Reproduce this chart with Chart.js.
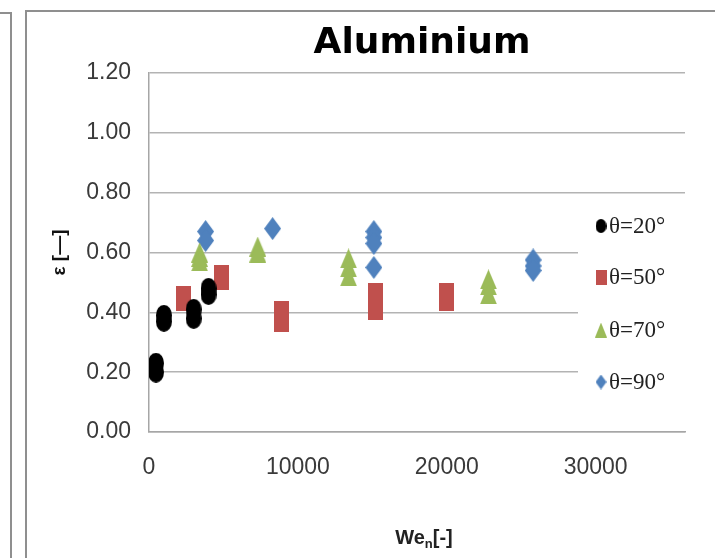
<!DOCTYPE html>
<html>
<head>
<meta charset="utf-8">
<title>Aluminium</title>
<style>
  html, body { margin: 0; padding: 0; background: #fff; }
  body { width: 715px; height: 558px; position: relative; overflow: hidden; }
  .prev { position: absolute; left: -10px; top: 12px; width: 20px; height: 600px; border: 2px solid #8f8f8f; border-left: none; }
  .frame { position: absolute; left: 25px; top: 10px; width: 720px; height: 600px; border: 2px solid #8f8f8f; }
  #chart { position: absolute; left: 0; top: 0; }
</style>
</head>
<body>
<div class="prev"></div>
<div class="frame"></div>
<canvas id="chart" width="715" height="558"></canvas>
<script src="https://cdn.jsdelivr.net/npm/chart.js@4.4.1/dist/chart.umd.min.js"></script>
<script>
// Wen and epsilon per contact angle
const we20 = [470, 470, 1000, 1000, 3000, 3000, 4000, 4000];
const eps20 = [0.23, 0.20, 0.39, 0.37, 0.41, 0.38, 0.48, 0.46];
const we50 = [2300, 2300, 4900, 4900, 8900, 8900, 15200, 15200, 15200, 20000, 20000];
const eps50 = [0.45, 0.44, 0.52, 0.51, 0.40, 0.37, 0.46, 0.43, 0.41, 0.46, 0.44];
const we70 = [3400, 3400, 3400, 7300, 7300, 13400, 13400, 13400, 22800, 22800, 22800];
const eps70 = [0.60, 0.585, 0.57, 0.62, 0.60, 0.58, 0.55, 0.52, 0.51, 0.49, 0.46];
const we90 = [3800, 3800, 8300, 15100, 15100, 15100, 15100, 25800, 25800, 25800];
const eps90 = [0.67, 0.64, 0.68, 0.67, 0.65, 0.63, 0.55, 0.575, 0.555, 0.54];

const seriesLabels = ['θ=20°', 'θ=50°', 'θ=70°', 'θ=90°'];
const xTicks = [0, 10000, 20000, 30000];

const colors = ['#000000', '#C0504D', '#9BBB59', '#4F81BD'];

// tall markers (the plot is a bit stretched vertically)
function marker(shape, w, h, color) {
  const c = document.createElement('canvas');
  c.width = w; c.height = h;
  const g = c.getContext('2d');
  g.fillStyle = color;
  g.beginPath();
  if (shape === 'ellipse') g.ellipse(w / 2, h / 2, w / 2, h / 2, 0, 0, Math.PI * 2);
  else if (shape === 'rect') g.rect(0, 0, w, h);
  else if (shape === 'triangle') { g.moveTo(w / 2, 0); g.lineTo(w, h); g.lineTo(0, h); g.closePath(); }
  else { g.moveTo(w / 2, 0); g.lineTo(w, h / 2); g.lineTo(w / 2, h); g.lineTo(0, h / 2); g.closePath(); }
  g.fill();
  return c;
}

const bigMarkers = [
  marker('ellipse', 16, 21, colors[0]),
  marker('rect', 15, 22, colors[1]),
  marker('triangle', 17, 20, colors[2]),
  marker('diamond', 17, 23, colors[3])
];
const smallMarkers = [
  marker('ellipse', 11, 14, colors[0]),
  marker('rect', 11, 15, colors[1]),
  marker('triangle', 12, 15, colors[2]),
  marker('diamond', 11, 15, colors[3])
];

function pts(xs, ys) {
  return xs.map((x, i) => ({ x: x, y: ys[i] }));
}

const tickFont = { family: '"Liberation Sans", Arial, sans-serif', size: 23 };

// title, x axis title with subscript, and the boxed legend
const extras = {
  id: 'extras',
  beforeDatasetsDraw(chart) {
    const ctx = chart.ctx;
    ctx.save();
    ctx.fillStyle = '#fff';
    ctx.fillRect(578, 200, 120, 220);
    ctx.restore();
  },
  afterDraw(chart) {
    const ctx = chart.ctx;
    ctx.save();
    ctx.fillStyle = '#000';
    ctx.textAlign = 'center';
    ctx.textBaseline = 'alphabetic';
    ctx.font = 'bold 36px "DejaVu Sans"';
    ctx.fillText('Aluminium', 422, 53);

    // We_n[-]
    ctx.textAlign = 'left';
    const big = 'bold 20px "Liberation Sans", Arial, sans-serif';
    const sub = 'bold 13px "Liberation Sans", Arial, sans-serif';
    ctx.font = big;
    const w1 = ctx.measureText('We').width;
    const w3 = ctx.measureText('[-]').width;
    ctx.font = sub;
    const w2 = ctx.measureText('n').width;
    let x = 424 - (w1 + w2 + w3) / 2;
    ctx.fillStyle = '#222';
    ctx.font = big;
    ctx.fillText('We', x, 544);
    ctx.font = sub;
    ctx.fillText('n', x + w1, 548);
    ctx.font = big;
    ctx.fillText('[-]', x + w1 + w2, 544);

    // legend
    const rows = [226, 277, 330, 382];
    ctx.font = '23px "Liberation Serif", "Times New Roman", serif';
    ctx.textBaseline = 'middle';
    ctx.fillStyle = '#222';
    rows.forEach((y, i) => {
      const m = smallMarkers[i];
      ctx.drawImage(m, 601 - m.width / 2, y - m.height / 2);
      ctx.fillText(seriesLabels[i], 609, y + 1);
    });
    ctx.restore();
  }
};

new Chart(document.getElementById('chart'), {
  type: 'scatter',
  data: {
    datasets: [
      { label: seriesLabels[0], data: pts(we20, eps20), pointStyle: bigMarkers[0] },
      { label: seriesLabels[1], data: pts(we50, eps50), pointStyle: bigMarkers[1] },
      { label: seriesLabels[2], data: pts(we70, eps70), pointStyle: bigMarkers[2] },
      { label: seriesLabels[3], data: pts(we90, eps90), pointStyle: bigMarkers[3] }
    ]
  },
  options: {
    responsive: false,
    animation: false,
    layout: { padding: { left: 0, right: 30, top: 73, bottom: 0 } },
    plugins: {
      legend: { display: false },
      tooltip: { enabled: false }
    },
    scales: {
      x: {
        type: 'linear',
        min: 0,
        max: 36000,
        afterBuildTicks: s => { s.ticks = xTicks.map(v => ({ value: v })); },
        afterFit: s => { s.height = 126; },
        grid: { display: false, drawTicks: false },
        border: { display: true, color: '#a6a6a6', width: 1.5 },
        ticks: { padding: 22, font: tickFont, color: '#3a3a3a', maxRotation: 0, callback: v => String(v) }
      },
      y: {
        min: 0,
        max: 1.2,
        afterFit: s => { s.width = 149; },
        grid: { color: '#b3b3b3', lineWidth: 1.5, drawTicks: false },
        border: { display: true, color: '#a6a6a6', width: 1.5 },
        ticks: {
          stepSize: 0.2,
          padding: 18,
          font: tickFont,
          color: '#3a3a3a',
          callback: v => v.toFixed(2)
        },
        title: {
          display: true,
          text: 'ε [—]',
          color: '#111',
          font: { family: '"Liberation Sans", Arial, sans-serif', size: 19, weight: 'bold' },
          padding: { top: 48, bottom: 0 }
        }
      }
    }
  },
  plugins: [extras]
});
</script>
</body>
</html>
